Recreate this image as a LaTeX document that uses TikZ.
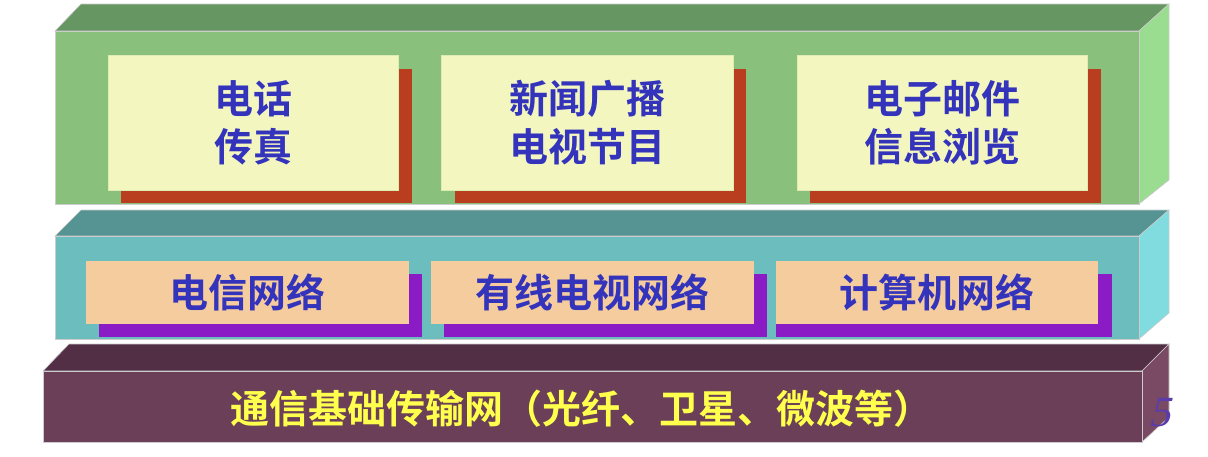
\documentclass[tikz,border=0pt]{standalone}
\usepackage{fontspec}
\newfontfamily\cjk{Noto Sans CJK SC}[BoldFont={Noto Sans CJK SC Bold}]
\newfontfamily\numfont{Liberation Serif}
\definecolor{gfront}{RGB}{136,192,124}
\definecolor{gtop}{RGB}{102,150,98}
\definecolor{gside}{RGB}{154,220,144}
\definecolor{tfront}{RGB}{107,189,190}
\definecolor{ttop}{RGB}{86,147,147}
\definecolor{tside}{RGB}{128,220,222}
\definecolor{pfront}{RGB}{106,63,87}
\definecolor{ptop}{RGB}{83,47,70}
\definecolor{pside}{RGB}{122,74,100}
\definecolor{ybox}{RGB}{244,246,192}
\definecolor{redsh}{RGB}{184,62,31}
\definecolor{peach}{RGB}{245,204,158}
\definecolor{purpsh}{RGB}{139,27,196}
\definecolor{bluetxt}{RGB}{51,51,187}
\definecolor{yeltxt}{RGB}{255,255,77}
\definecolor{numcol}{RGB}{90,60,170}
\tikzset{
  edge/.style={draw=black!20, line width=0.6pt},
  topbox/.style={fill=ybox, draw=ybox!80!gfront, line width=0.6pt, minimum width=290pt, minimum height=135pt, anchor=north west, inner sep=0pt, align=center, text=bluetxt, font=\cjk\bfseries\fontsize{39}{48}\selectfont},
  topsh/.style={fill=redsh, minimum width=291pt, minimum height=134pt, anchor=north west, inner sep=0pt},
  midbox/.style={fill=peach, minimum width=323pt, minimum height=63pt, anchor=north west, inner sep=0pt, text=bluetxt, font=\cjk\bfseries\fontsize{39}{44}\selectfont},
  midsh/.style={fill=purpsh, minimum width=323pt, minimum height=63pt, anchor=north west, inner sep=0pt},
}
\begin{document}
\begin{tikzpicture}[x=1pt,y=-1pt]
\useasboundingbox (0,0) rectangle (1208,456);
% top block
\fill[gtop, edge] (55,31) -- (81,4) -- (1169,4) -- (1139,31) -- cycle;
\fill[gside, edge] (1139,31) -- (1169,4) -- (1169,180) -- (1139,204) -- cycle;
\fill[gfront, edge] (55,31) rectangle (1139,204);
% middle block
\fill[ttop, edge] (55,236) -- (81,210) -- (1169,210) -- (1139,236) -- cycle;
\fill[tside, edge] (1139,236) -- (1169,210) -- (1169,313) -- (1139,339) -- cycle;
\fill[tfront, edge] (55,236) rectangle (1139,339);
% bottom block
\fill[ptop, edge] (43,371) -- (69,344) -- (1169,344) -- (1142,371) -- cycle;
\fill[pside, edge] (1142,371) -- (1169,344) -- (1169,417) -- (1142,442) -- cycle;
\fill[pfront, edge] (43,371) rectangle (1142,442);
% top boxes
\node[topsh] (s1) at (121,69) {};
\node[topsh] (s2) at (455,69) {};
\node[topsh] (s3) at (810,69) {};
\node[topbox] (b1) at (108,55) {电话\\传真};
\node[topbox, minimum width=292pt] (b2) at (441,55) {新闻广播\\电视节目};
\node[topbox] (b3) at (797,55) {电子邮件\\信息浏览};
% middle boxes
\node[midsh] (m1s) at (99,274) {};
\node[midsh] (m2s) at (444,274) {};
\node[midsh, minimum width=336pt] (m3s) at (776,274) {};
\node[midbox] (m1) at (86,261) {电信网络};
\node[midbox] (m2) at (431,261) {有线电视网络};
\node[midbox, minimum width=322pt] (m3) at (776,261) {计算机网络};
% bottom text
\node[text=yeltxt, font=\cjk\bfseries\fontsize{39}{44}\selectfont, inner sep=0pt] (base) at (581,409) {通信基础传输网（光纤、卫星、微波等）};
\node[text=numcol, font=\numfont\fontsize{43}{43}\selectfont, inner sep=0pt, xslant=0.25] (pg) at (1163,413) {5};
\end{tikzpicture}
\end{document}
